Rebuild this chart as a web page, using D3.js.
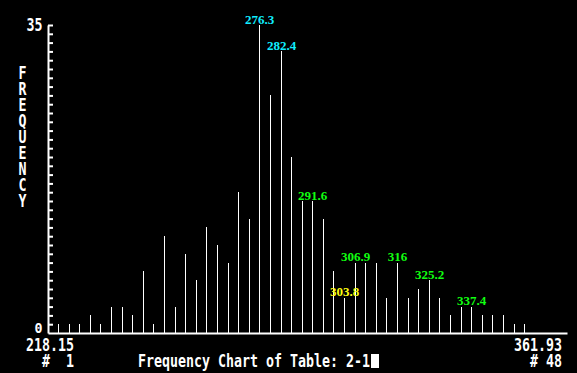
<!DOCTYPE html>
<html>
<head>
<meta charset="utf-8">
<title>Frequency Chart of Table: 2-1</title>
<script src="https://cdnjs.cloudflare.com/ajax/libs/d3/7.8.5/d3.min.js"></script>
<style>
    * { margin: 0; padding: 0; }
    body { background: #000; }
    svg { display: block; }
</style>
</head>
<body>
<script>
    // frequency of each bin, # 1 .. # 48
    var counts = [1, 1, 1, 2, 1, 3, 3, 2, 7, 1,
                  11, 3, 9, 6, 12, 10, 8, 16, 13, 35,
                  27, 32, 20, 15, 15, 13, 7, 4, 8, 8,
                  8, 4, 8, 4, 5, 6, 4, 2, 3, 3,
                  2, 2, 2, 1, 1, 0, 0, 0];
    var rangeLabels = ["218.15", "361.93"];
    var binLabels = ["#  1", "# 48"];
    var yLabels = ["0", "35"];
    var yMax = 35;

    // value labels over the peaks
    var peakBins = [20, 22, 25, 28, 29, 33, 36, 40];
    var peakText = ["276.3", "282.4", "291.6", "303.8", "306.9", "316", "325.2", "337.4"];
    var peakKind = ["cyan", "cyan", "green", "yellow", "green", "green", "green", "green"];

    var title = "Frequency Chart of Table: 2-1";
    var yTitle = "FREQUENCY";

    var width = 577, height = 373;

    var svg = d3.select("body").append("svg")
        .attr("width", width)
        .attr("height", height)
        .style("background", "#000");

    var x = d3.scaleLinear()
        .domain([0, counts.length + 1])
        .range([48, 567]);

    var y = d3.scaleLinear()
        .domain([0, yMax])
        .range([333, 25]);

    var color = d3.scaleOrdinal()
        .domain(["cyan", "green", "yellow"])
        .range(["#10eeff", "#10ff10", "#ffff10"]);

    // blocky DOS style text, 8px per character cell
    function dosText(str, px, py, anchor, size) {
        return svg.append("text")
            .attr("x", px)
            .attr("y", py)
            .attr("text-anchor", anchor)
            .attr("textLength", str.length * 8)
            .attr("lengthAdjust", "spacingAndGlyphs")
            .style("white-space", "pre")
            .style("font-family", "'DejaVu Sans Mono', monospace")
            .style("font-weight", "bold")
            .style("font-size", (size || 18) + "px")
            .attr("fill", "#fff")
            .text(str);
    }

    // y axis, ticks pointing right
    svg.append("g")
        .attr("transform", "translate(48,0)")
        .call(d3.axisRight(y)
            .tickValues(d3.range(1, yMax + 1))
            .tickSize(5)
            .tickSizeOuter(0)
            .tickFormat(""))
        .call(function(g) {
            g.selectAll("path, line").attr("stroke", "#fff").attr("stroke-width", 2);
        });

    // baseline
    svg.append("g")
        .attr("transform", "translate(0," + y(0) + ")")
        .call(d3.axisBottom(x).tickValues([]).tickSizeOuter(0))
        .call(function(g) {
            g.select("path").attr("stroke", "#fff").attr("stroke-width", 2);
        });

    // bars
    svg.selectAll(".bar")
        .data(counts)
        .enter().append("rect")
        .attr("class", "bar")
        .attr("x", function(d, i) { return Math.floor(x(i + 1)); })
        .attr("y", function(d) { return y(d); })
        .attr("width", 1)
        .attr("height", function(d) { return y(0) - y(d); })
        .attr("fill", "#fff")
        .attr("shape-rendering", "crispEdges");

    // peak value labels
    svg.selectAll(".peak")
        .data(peakBins)
        .enter().append("text")
        .attr("class", "peak")
        .attr("x", function(d) { return Math.floor(x(d)) + 0.5; })
        .attr("y", function(d) { return y(counts[d - 1]) - 1.5; })
        .attr("text-anchor", "middle")
        .style("font-family", "'Liberation Serif', serif")
        .style("font-weight", "bold")
        .style("font-size", "13px")
        .attr("fill", function(d, i) { return color(peakKind[i]); })
        .text(function(d, i) { return peakText[i]; });

    // y labels
    dosText(yLabels[1], 42.5, y(yMax) + 6, "end");
    dosText(yLabels[0], 42.5, y(0) - 0.5, "end", 14);

    // vertical axis title
    yTitle.split("").forEach(function(ch, k) {
        dosText(ch, 22.5, 79 + k * 16, "middle");
    });

    // range and bin numbers
    dosText(rangeLabels[0], 74, 351, "end");
    dosText(binLabels[0], 74, 367, "end");
    dosText(rangeLabels[1], 562, 351, "end");
    dosText(binLabels[1], 562, 367, "end");

    // title with text cursor
    dosText(title, 138, 367, "start");
    svg.append("rect")
        .attr("x", 138 + title.length * 8 + 1)
        .attr("y", 354)
        .attr("width", 8)
        .attr("height", 14)
        .attr("fill", "#fff");
</script>
</body>
</html>
